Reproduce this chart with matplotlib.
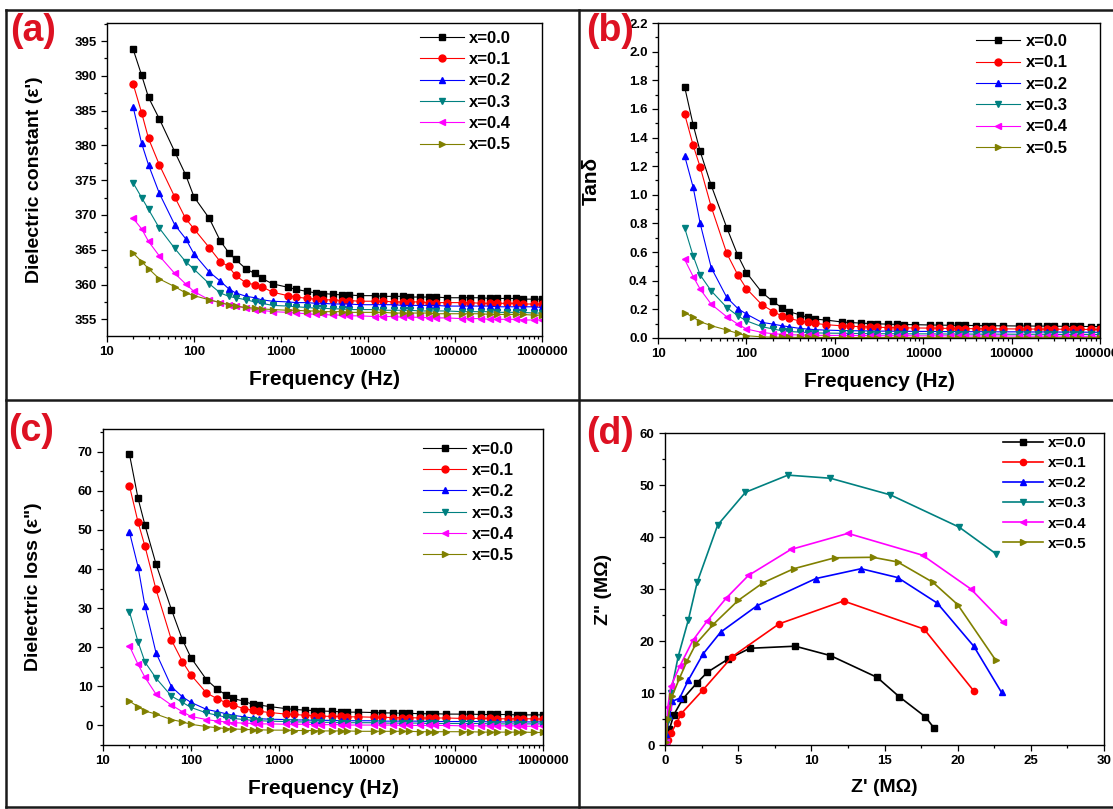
import matplotlib
matplotlib.use('Agg')
import matplotlib.pyplot as plt
from matplotlib.lines import Line2D
from matplotlib.ticker import FuncFormatter, MultipleLocator, NullFormatter, LogLocator

plt.rcParams['font.family'] = ['Liberation Sans', 'DejaVu Sans']
plt.rcParams['font.weight'] = 'bold'
plt.rcParams['axes.labelweight'] = 'bold'

# ---- data ----
labels = ['x=0.0', 'x=0.1', 'x=0.2', 'x=0.3', 'x=0.4', 'x=0.5']
colors = ['#000000', '#FF0000', '#0000FF', '#008080', '#FF00FF', '#808000']
markers = ['s', 'o', '^', 'v', '<', '>']

freq = [20, 25, 30, 40, 60, 80, 100, 150, 200, 250, 300, 400, 500, 600, 800,
        1200, 1500, 2000, 2500, 3000, 4000, 5000, 6000, 8000,
        12000, 15000, 20000, 25000, 30000, 40000, 50000, 60000, 80000,
        120000, 150000, 200000, 250000, 300000, 400000, 500000, 600000, 800000, 1000000]

eps_00 = [393.8, 390.1, 386.9, 383.8, 379.1, 375.8, 372.6, 369.5, 366.3, 364.6, 363.6, 362.2, 361.6, 360.9, 360.1,
          359.6, 359.3, 359.0, 358.8, 358.7, 358.6, 358.5, 358.5, 358.4,
          358.4, 358.3, 358.3, 358.3, 358.2, 358.2, 358.2, 358.2, 358.1,
          358.1, 358.1, 358.1, 358.0, 358.0, 358.0, 358.0, 357.9, 357.9, 357.9]
eps_01 = [388.8, 384.7, 381.0, 377.2, 372.6, 369.5, 368.0, 365.3, 363.3, 362.6, 361.3, 360.2, 360.0, 359.7, 358.9,
          358.4, 358.2, 358.0, 357.9, 357.8, 357.8, 357.7, 357.7, 357.6,
          357.6, 357.6, 357.5, 357.5, 357.5, 357.5, 357.4, 357.4, 357.4,
          357.4, 357.4, 357.3, 357.3, 357.3, 357.3, 357.3, 357.2, 357.2, 357.2]
eps_02 = [385.5, 380.3, 377.2, 373.1, 368.6, 366.6, 364.4, 361.8, 360.5, 359.4, 358.8, 358.3, 358.1, 357.8, 357.6,
          357.5, 357.4, 357.4, 357.3, 357.3, 357.2, 357.2, 357.2, 357.1,
          357.1, 357.1, 357.1, 357.0, 357.0, 357.0, 357.0, 357.0, 356.9,
          356.9, 356.9, 356.9, 356.9, 356.8, 356.8, 356.8, 356.8, 356.8, 356.7]
eps_03 = [374.6, 372.5, 370.8, 368.1, 365.2, 363.3, 362.2, 360.1, 358.8, 358.3, 358.1, 357.8, 357.5, 357.3, 357.0,
          356.9, 356.8, 356.7, 356.6, 356.6, 356.5, 356.5, 356.4, 356.4,
          356.4, 356.3, 356.3, 356.3, 356.3, 356.2, 356.2, 356.2, 356.2,
          356.1, 356.1, 356.1, 356.1, 356.0, 356.0, 356.0, 356.0, 355.9, 355.9]
eps_04 = [369.5, 368.0, 366.2, 364.1, 361.6, 360.1, 359.0, 357.8, 357.4, 357.1, 356.9, 356.6, 356.4, 356.3, 356.1,
          356.0, 355.9, 355.8, 355.7, 355.7, 355.6, 355.6, 355.5, 355.5,
          355.4, 355.4, 355.4, 355.3, 355.3, 355.3, 355.2, 355.2, 355.2,
          355.1, 355.1, 355.1, 355.0, 355.0, 355.0, 355.0, 354.9, 354.9, 354.9]
eps_05 = [364.5, 363.3, 362.3, 360.8, 359.7, 358.8, 358.4, 357.8, 357.4, 357.1, 356.9, 356.7, 356.6, 356.5, 356.4,
          356.3, 356.3, 356.2, 356.2, 356.1, 356.1, 356.1, 356.0, 356.0,
          356.0, 356.0, 355.9, 355.9, 355.9, 355.9, 355.9, 355.8, 355.8,
          355.8, 355.8, 355.8, 355.7, 355.7, 355.7, 355.7, 355.7, 355.6, 355.6]

tan_00 = [1.755, 1.488, 1.303, 1.066, 0.770, 0.577, 0.457, 0.318, 0.255, 0.213, 0.185, 0.162, 0.144, 0.132, 0.125,
          0.112, 0.108, 0.104, 0.101, 0.099, 0.097, 0.095, 0.094, 0.093,
          0.091, 0.090, 0.089, 0.088, 0.088, 0.087, 0.086, 0.086, 0.085,
          0.084, 0.084, 0.083, 0.083, 0.082, 0.082, 0.081, 0.081, 0.080, 0.080]
tan_01 = [1.565, 1.345, 1.194, 0.916, 0.591, 0.440, 0.345, 0.232, 0.185, 0.155, 0.137, 0.120, 0.109, 0.102, 0.093,
          0.085, 0.082, 0.079, 0.077, 0.075, 0.073, 0.072, 0.071, 0.070,
          0.069, 0.068, 0.067, 0.066, 0.066, 0.065, 0.065, 0.064, 0.064,
          0.063, 0.063, 0.062, 0.062, 0.062, 0.061, 0.061, 0.060, 0.060, 0.060]
tan_02 = [1.273, 1.052, 0.800, 0.491, 0.283, 0.206, 0.167, 0.109, 0.097, 0.086, 0.079, 0.067, 0.062, 0.058, 0.055,
          0.052, 0.051, 0.050, 0.049, 0.048, 0.048, 0.047, 0.047, 0.046,
          0.046, 0.045, 0.045, 0.045, 0.044, 0.044, 0.044, 0.043, 0.043,
          0.043, 0.042, 0.042, 0.042, 0.042, 0.041, 0.041, 0.041, 0.040, 0.040]
tan_03 = [0.770, 0.573, 0.440, 0.329, 0.213, 0.155, 0.120, 0.079, 0.063, 0.051, 0.046, 0.041, 0.038, 0.036, 0.034,
          0.033, 0.032, 0.031, 0.031, 0.030, 0.030, 0.030, 0.029, 0.029,
          0.029, 0.028, 0.028, 0.028, 0.028, 0.027, 0.027, 0.027, 0.027,
          0.026, 0.026, 0.026, 0.026, 0.025, 0.025, 0.025, 0.025, 0.025, 0.024]
tan_04 = [0.549, 0.429, 0.341, 0.236, 0.148, 0.097, 0.063, 0.039, 0.030, 0.026, 0.023, 0.021, 0.020, 0.019, 0.018,
          0.018, 0.017, 0.017, 0.017, 0.016, 0.016, 0.016, 0.016, 0.015,
          0.015, 0.015, 0.015, 0.015, 0.014, 0.014, 0.014, 0.014, 0.014,
          0.014, 0.013, 0.013, 0.013, 0.013, 0.013, 0.013, 0.012, 0.012, 0.012]
tan_05 = [0.178, 0.144, 0.114, 0.086, 0.056, 0.032, 0.016, 0.008, 0.006, 0.005, 0.005, 0.004, 0.004, 0.004, 0.004,
          0.003, 0.003, 0.003, 0.003, 0.003, 0.003, 0.003, 0.003, 0.003,
          0.003, 0.002, 0.002, 0.002, 0.002, 0.002, 0.002, 0.002, 0.002,
          0.002, 0.002, 0.002, 0.002, 0.002, 0.002, 0.002, 0.002, 0.002, 0.002]

loss_00 = [69.3, 58.1, 51.2, 41.3, 29.6, 21.9, 17.3, 11.7, 9.2, 7.8, 6.9, 6.2, 5.4, 5.2, 4.8,
           4.3, 4.1, 3.9, 3.8, 3.7, 3.6, 3.5, 3.4, 3.4,
           3.3, 3.2, 3.2, 3.1, 3.1, 3.0, 3.0, 3.0, 2.9,
           2.9, 2.9, 2.8, 2.8, 2.8, 2.8, 2.7, 2.7, 2.7, 2.7]
loss_01 = [61.2, 52.0, 45.8, 34.8, 21.8, 16.3, 12.9, 8.3, 6.8, 5.8, 5.2, 4.3, 3.9, 3.6, 3.3,
           2.9, 2.8, 2.6, 2.5, 2.4, 2.3, 2.3, 2.2, 2.2,
           2.1, 2.1, 2.0, 2.0, 2.0, 1.9, 1.9, 1.9, 1.9,
           1.8, 1.8, 1.8, 1.8, 1.7, 1.7, 1.7, 1.7, 1.7, 1.6]
loss_02 = [49.4, 40.6, 30.5, 18.6, 9.9, 7.3, 5.9, 4.1, 3.5, 3.0, 2.6, 2.2, 1.9, 1.7, 1.6,
           1.5, 1.4, 1.4, 1.3, 1.3, 1.3, 1.2, 1.2, 1.2,
           1.2, 1.1, 1.1, 1.1, 1.1, 1.1, 1.0, 1.0, 1.0,
           1.0, 1.0, 1.0, 0.9, 0.9, 0.9, 0.9, 0.9, 0.9, 0.9]
loss_03 = [29.0, 21.4, 16.2, 12.1, 7.5, 5.9, 4.6, 3.2, 2.6, 2.1, 1.8, 1.5, 1.3, 1.2, 1.1,
           1.0, 0.9, 0.9, 0.8, 0.8, 0.8, 0.7, 0.7, 0.7,
           0.7, 0.6, 0.6, 0.6, 0.6, 0.6, 0.5, 0.5, 0.5,
           0.5, 0.5, 0.5, 0.4, 0.4, 0.4, 0.4, 0.4, 0.4, 0.4]
loss_04 = [20.3, 15.6, 12.3, 8.0, 5.2, 3.5, 2.3, 1.5, 1.1, 0.9, 0.7, 0.6, 0.5, 0.4, 0.4,
           0.3, 0.3, 0.3, 0.2, 0.2, 0.2, 0.2, 0.1, 0.1,
           0.1, 0.1, 0.1, 0.0, 0.0, 0.0, 0.0, 0.0, 0.0,
           -0.1, -0.1, -0.1, -0.1, -0.1, -0.1, -0.1, -0.2, -0.2, -0.2]
loss_05 = [6.2, 4.8, 3.7, 2.9, 1.5, 0.9, 0.3, -0.3, -0.6, -0.8, -0.9, -1.0, -1.1, -1.1, -1.2,
           -1.2, -1.3, -1.3, -1.3, -1.4, -1.4, -1.4, -1.4, -1.5,
           -1.5, -1.5, -1.5, -1.5, -1.5, -1.6, -1.6, -1.6, -1.6,
           -1.6, -1.6, -1.7, -1.7, -1.7, -1.7, -1.7, -1.7, -1.8, -1.8]

# Cole-Cole: Z' and Z'' in MOhm
zr_00 = [0.05, 0.1, 0.3, 0.6, 1.2, 2.2, 2.9, 4.3, 5.8, 8.9, 11.3, 14.5, 16.0, 17.8, 18.4]
zi_00 = [0.3, 1.2, 3.0, 5.8, 8.8, 12.0, 14.0, 16.5, 18.6, 19.0, 17.2, 13.0, 9.3, 5.4, 3.2]
zr_01 = [0.05, 0.2, 0.4, 0.8, 1.1, 2.6, 4.6, 7.8, 12.2, 17.7, 21.1]
zi_01 = [0.2, 1.0, 2.3, 4.2, 6.0, 10.6, 17.0, 23.3, 27.7, 22.3, 10.4]
zr_02 = [0.05, 0.1, 0.3, 0.5, 1.0, 1.6, 2.6, 3.8, 6.3, 10.3, 13.4, 15.9, 18.6, 21.1, 23.0]
zi_02 = [0.3, 2.2, 5.5, 8.4, 9.0, 12.5, 17.5, 21.7, 26.8, 32.0, 33.9, 32.2, 27.3, 19.0, 10.1]
zr_03 = [0.05, 0.2, 0.4, 0.9, 1.6, 2.2, 3.6, 5.5, 8.4, 11.3, 15.4, 20.1, 22.6]
zi_03 = [0.5, 4.8, 10.0, 17.0, 24.1, 31.3, 42.3, 48.6, 51.9, 51.3, 48.1, 41.9, 36.8]
zr_04 = [0.05, 0.2, 0.4, 1.0, 1.9, 2.9, 4.2, 5.7, 8.6, 12.5, 17.6, 20.9, 23.1]
zi_04 = [0.5, 7.4, 11.3, 15.1, 20.1, 23.9, 28.3, 32.6, 37.6, 40.7, 36.5, 30.0, 23.6]
zr_05 = [0.05, 0.2, 0.5, 1.0, 1.5, 2.1, 3.3, 5.0, 6.7, 8.8, 11.6, 14.2, 15.9, 18.3, 20.0, 22.6]
zi_05 = [0.5, 5.0, 9.5, 12.9, 16.1, 19.4, 23.2, 27.8, 31.2, 33.9, 36.0, 36.1, 35.2, 31.3, 27.0, 16.3]

eps_all = [eps_00, eps_01, eps_02, eps_03, eps_04, eps_05]
tan_all = [tan_00, tan_01, tan_02, tan_03, tan_04, tan_05]
loss_all = [loss_00, loss_01, loss_02, loss_03, loss_04, loss_05]
zr_all = [zr_00, zr_01, zr_02, zr_03, zr_04, zr_05]
zi_all = [zi_00, zi_01, zi_02, zi_03, zi_04, zi_05]

W, H = 1113, 809
fig = plt.figure(figsize=(W / 100, H / 100), dpi=100)


def box(l, r, t, b):
    # pixel box (from top-left) -> figure fraction
    return [l / W, 1 - b / H, (r - l) / W, (b - t) / H]


def style(ax):
    for s in ax.spines.values():
        s.set_linewidth(1.0)
    ax.tick_params(which='both', direction='out', top=False, right=False, labelsize=9.5, width=0.9)
    ax.tick_params(which='major', length=4)
    ax.tick_params(which='minor', length=2)


def freq_axis(ax):
    ax.set_xscale('log')
    ax.set_xlim(10, 1e6)
    ax.xaxis.set_major_locator(LogLocator(base=10, numticks=10))
    ax.xaxis.set_major_formatter(FuncFormatter(lambda v, p: '%d' % round(v)))
    ax.xaxis.set_minor_locator(LogLocator(base=10, subs=range(2, 10), numticks=50))
    ax.xaxis.set_minor_formatter(NullFormatter())
    ax.set_xlabel('Frequency (Hz)', fontsize=15, labelpad=8)


def legend(ax, x, y, fs=12, spacing=0.38):
    ax.legend(loc='upper left', bbox_to_anchor=(x, y), frameon=False, fontsize=fs,
              handlelength=2.6, handletextpad=0.35, labelspacing=spacing,
              borderpad=0, borderaxespad=0)


ax_a = fig.add_axes(box(107, 542, 23, 336))
ax_b = fig.add_axes(box(658, 1100, 23, 338))
ax_c = fig.add_axes(box(103, 543, 429, 745))
ax_d = fig.add_axes(box(665, 1104, 433, 745))

for ax, ys in [(ax_a, eps_all), (ax_b, tan_all), (ax_c, loss_all)]:
    for y, c, m, lab in zip(ys, colors, markers, labels):
        ax.plot(freq, y, color=c, marker=m, markersize=5, lw=0.8, label=lab)
    freq_axis(ax)
    style(ax)

for zr, zi, c, m, lab in zip(zr_all, zi_all, colors, markers, labels):
    ax_d.plot(zr, zi, color=c, marker=m, markersize=4.5, lw=1.2, label=lab)
style(ax_d)

# panel a
ax_a.set_ylim(352.6, 397.6)
ax_a.yaxis.set_major_locator(MultipleLocator(5))
ax_a.yaxis.set_minor_locator(MultipleLocator(2.5))
ax_a.set_ylabel("Dielectric constant (\u03b5')", fontsize=14)
ax_a.yaxis.set_label_coords(-0.147, 0.5)
legend(ax_a, 0.72, 0.975)

# panel b
ax_b.set_ylim(0, 2.2)
ax_b.yaxis.set_major_locator(MultipleLocator(0.2))
ax_b.yaxis.set_minor_locator(MultipleLocator(0.1))
ax_b.yaxis.set_major_formatter(FuncFormatter(lambda v, p: '%.1f' % v))
ax_b.set_ylabel('Tan\u03b4', fontsize=15)
ax_b.yaxis.set_label_coords(-0.129, 0.5)
legend(ax_b, 0.72, 0.965)

# panel c
ax_c.set_ylim(-5, 75.8)
ax_c.yaxis.set_major_locator(MultipleLocator(10))
ax_c.yaxis.set_minor_locator(MultipleLocator(5))
ax_c.set_ylabel('Dielectric loss (\u03b5")', fontsize=14)
ax_c.yaxis.set_label_coords(-0.139, 0.5)
legend(ax_c, 0.727, 0.96)

# panel d
ax_d.set_xlim(0, 30)
ax_d.set_ylim(0, 60)
ax_d.xaxis.set_major_locator(MultipleLocator(5))
ax_d.xaxis.set_minor_locator(MultipleLocator(2.5))
ax_d.yaxis.set_major_locator(MultipleLocator(10))
ax_d.yaxis.set_minor_locator(MultipleLocator(5))
ax_d.set_xlabel("Z' (M\u03a9)", fontsize=14, labelpad=8)
ax_d.set_ylabel('Z" (M\u03a9)', fontsize=14)
ax_d.yaxis.set_label_coords(-0.121, 0.5)
legend(ax_d, 0.77, 0.99, fs=11, spacing=0.4)

# panel letters
for txt, (px, py) in zip(['(a)', '(b)', '(c)', '(d)'], [(10, 13), (586, 13), (8, 413), (586, 416)]):
    fig.text(px / W, 1 - py / H, txt, color='#DD1122', fontsize=27, fontweight='bold', va='top', ha='left')

# panel frame lines
frame = [((6, 10), (W, 10)), ((6, 10), (6, 807)), ((6, 807), (W, 807)),
         ((579, 10), (579, 807)), ((6, 400), (W, 400))]
for (x0, y0), (x1, y1) in frame:
    fig.add_artist(Line2D([x0 / W, x1 / W], [1 - y0 / H, 1 - y1 / H], transform=fig.transFigure,
                          color='#1a1a1a', lw=1.8))

fig.savefig('out.png', dpi=100)
